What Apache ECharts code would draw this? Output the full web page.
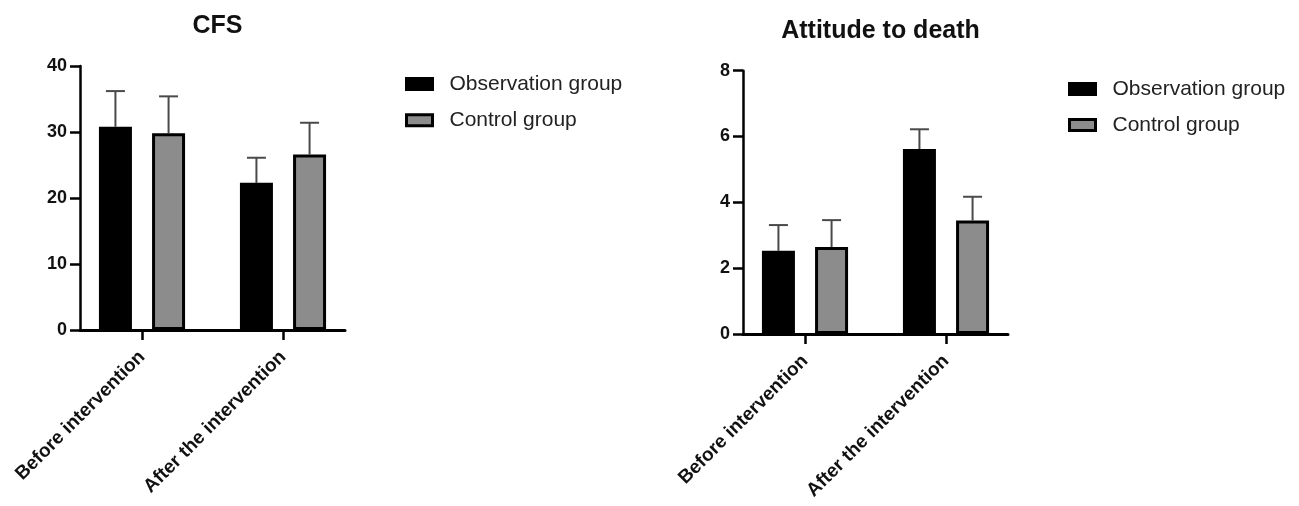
<!DOCTYPE html>
<html>
<head>
<meta charset="utf-8">
<script src="https://cdn.jsdelivr.net/npm/echarts@6/dist/echarts.min.js"></script>
<style>
html,body{margin:0;padding:0;background:#fff;}
#c{width:1299px;height:506px;}
</style>
</head>
<body>
<div id="c"></div>
<script>
// ---- data ----
const categories = ['Before intervention', 'After the intervention'];
const seriesNames = ['Observation group', 'Control group'];
const cfsTitle = 'CFS';
const cfsObsMean = [30.8, 22.3];
const cfsObsSD = [5.4, 3.8];
const cfsCtrlMean = [29.8, 26.6];
const cfsCtrlSD = [5.6, 4.8];
const cfsTicks = { min: 0, max: 40, interval: 10 };
const deathTitle = 'Attitude to death';
const deathObsMean = [2.53, 5.62];
const deathObsSD = [0.78, 0.6];
const deathCtrlMean = [2.64, 3.45];
const deathCtrlSD = [0.82, 0.72];
const deathTicks = { min: 0, max: 8, interval: 2 };

// ---- styles ----
const FONT = '"Liberation Sans", Arial, Helvetica, sans-serif';
const BAR_W = 33;
const BAR_GAP = 0.61;
const colors = ['#000000', '#8c8c8c'];
const AX = 2.5;

const chart = echarts.init(document.getElementById('c'));

const panels = [
  { title: cfsTitle, ticks: cfsTicks, means: [cfsObsMean, cfsCtrlMean], sds: [cfsObsSD, cfsCtrlSD],
    axisLeft: 80, top: 66, height: 264, legendLeft: 405, legendTop: 73.5, legendGap: 15.3, titleTop: 9 },
  { title: deathTitle, ticks: deathTicks, means: [deathObsMean, deathCtrlMean], sds: [deathObsSD, deathCtrlSD],
    axisLeft: 743, top: 70.7, height: 263.3, legendLeft: 1068, legendTop: 78.5, legendGap: 15, titleTop: 14 }
];

const option = {
  animation: false,
  backgroundColor: '#fff',
  title: [], grid: [], xAxis: [], yAxis: [], series: [], legend: []
};

panels.forEach((p, pi) => {
  const axisW = 265;
  const bandW = 141;
  const gridBLeft = p.axisLeft + axisW / 2 - bandW;
  const gA = option.grid.length;
  option.grid.push({ left: p.axisLeft, top: p.top, width: axisW, height: p.height, containLabel: false });
  option.grid.push({ left: gridBLeft, top: p.top, width: bandW * 2, height: p.height, containLabel: false });
  const gB = gA + 1;

  option.title.push({
    text: p.title,
    left: p.axisLeft + axisW / 2, top: p.titleTop, textAlign: 'center',
    textStyle: { fontFamily: FONT, fontSize: 25, fontWeight: 'bold', color: '#111' }
  });

  // grid A: axis lines + y ticks/labels
  option.xAxis.push({
    type: 'category', gridIndex: gA, data: categories,
    axisLine: { show: true, lineStyle: { color: '#000', width: 3 } },
    axisTick: { show: false }, axisLabel: { show: false }, splitLine: { show: false }
  });
  option.yAxis.push({
    type: 'value', gridIndex: gA, min: p.ticks.min, max: p.ticks.max, interval: p.ticks.interval,
    axisLine: { show: true, lineStyle: { color: '#000', width: AX } },
    axisTick: { show: true, length: 10, lineStyle: { color: '#000', width: AX } },
    axisLabel: { fontFamily: FONT, fontSize: 18, fontWeight: 'bold', color: '#111', margin: 13 },
    splitLine: { show: false }
  });
  // grid B: bars, category ticks + rotated labels
  const xB = option.xAxis.length;
  option.xAxis.push({
    type: 'category', gridIndex: gB, data: categories,
    axisLine: { show: false },
    axisTick: { show: true, alignWithLabel: true, length: 10, lineStyle: { color: '#000', width: AX } },
    axisLabel: { rotate: 45, interval: 0, fontFamily: FONT, fontSize: 19, fontWeight: 'bold', color: '#111', margin: 24 },
    splitLine: { show: false }
  });
  const yB = option.yAxis.length;
  option.yAxis.push({
    type: 'value', gridIndex: gB, min: p.ticks.min, max: p.ticks.max, interval: p.ticks.interval, show: false
  });

  const offset = (BAR_W + BAR_W * BAR_GAP) / 2;
  seriesNames.forEach((name, si) => {
    option.series.push({
      type: 'bar', name: name, xAxisIndex: xB, yAxisIndex: yB,
      data: p.means[si], barWidth: BAR_W, barGap: (BAR_GAP * 100) + '%', z: 3,
      itemStyle: { color: colors[si], borderColor: '#000', borderWidth: 3 }
    });
  });
  seriesNames.forEach((name, si) => {
    const errData = categories.map((c, i) => [i, p.means[si][i], p.means[si][i] + p.sds[si][i]]);
    const dx = si === 0 ? -offset : offset;
    option.series.push({
      type: 'custom', name: name + ' SD', xAxisIndex: xB, yAxisIndex: yB, z: 1, silent: true,
      data: errData,
      renderItem: function (params, api) {
        const base = api.coord([api.value(0), api.value(1)]);
        const top = api.coord([api.value(0), api.value(2)]);
        const x = base[0] + dx;
        const style = { stroke: '#4a4a4a', lineWidth: 2 };
        return {
          type: 'group',
          children: [
            { type: 'line', shape: { x1: x, y1: base[1], x2: x, y2: top[1] }, style: style },
            { type: 'line', shape: { x1: x - 9.5, y1: top[1], x2: x + 9.5, y2: top[1] }, style: style }
          ]
        };
      }
    });
  });

  option.legend.push({
    orient: 'vertical', left: p.legendLeft, top: p.legendTop, itemGap: p.legendGap,
    padding: 0,
    itemWidth: 26, itemHeight: 11, selectedMode: false,
    data: seriesNames.map((n, si) => ({
      name: n, icon: 'rect',
      itemStyle: { color: colors[si], borderColor: '#000', borderWidth: 3 }
    })),
    textStyle: { fontFamily: FONT, fontSize: 21, color: '#222', padding: [0, 0, 0, 12] }
  });
});

chart.setOption(option);
</script>
</body>
</html>
